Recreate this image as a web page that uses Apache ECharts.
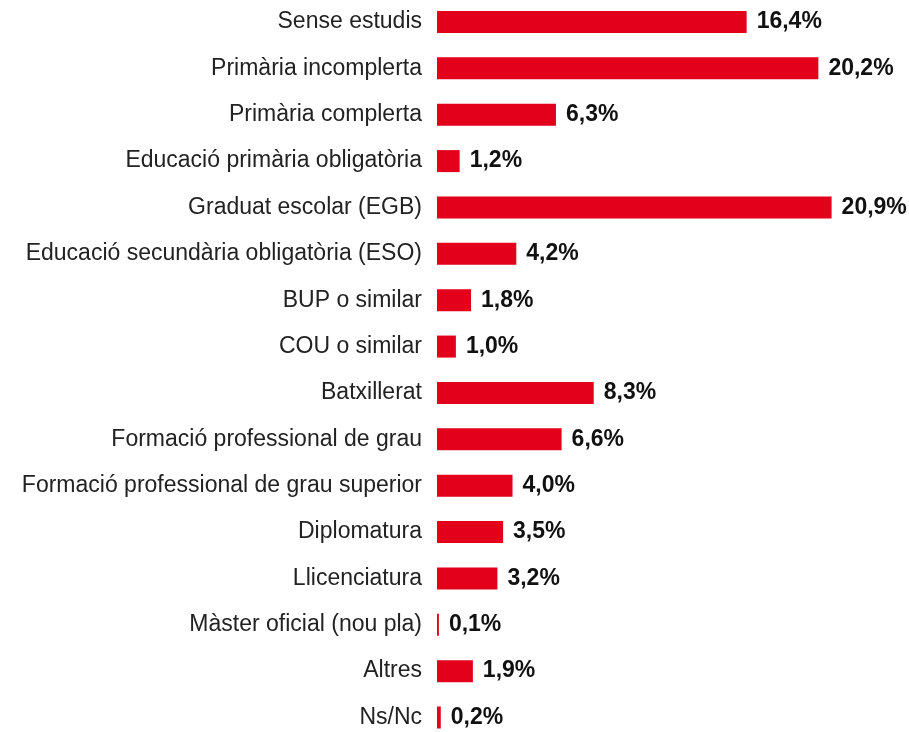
<!DOCTYPE html>
<html><head><meta charset="utf-8">
<script src="https://cdn.jsdelivr.net/npm/echarts@6/dist/echarts.min.js"></script>
<style>html,body{margin:0;padding:0;background:#fff}#c{width:909px;height:732px}</style>
</head><body><div id="c"></div>
<script>
const categories = ["Sense estudis","Primària incomplerta","Primària complerta","Educació primària obligatòria","Graduat escolar (EGB)","Educació secundària obligatòria (ESO)","BUP o similar","COU o similar","Batxillerat","Formació professional de grau","Formació professional de grau superior","Diplomatura","Llicenciatura","Màster oficial (nou pla)","Altres","Ns/Nc"];
const values = [16.4,20.2,6.3,1.2,20.9,4.2,1.8,1.0,8.3,6.6,4.0,3.5,3.2,0.1,1.9,0.2];
const chart = echarts.init(document.getElementById('c'));
chart.setOption({
  animation:false,
  grid:{left:437, top:22, width:472, bottom:14.5, containLabel:false},
  xAxis:{type:'value', min:0, max:25, show:false},
  yAxis:{type:'category', data:categories, inverse:true, boundaryGap:false,
    axisLine:{show:false}, axisTick:{show:false}, splitLine:{show:false},
    axisLabel:{fontFamily:'Liberation Sans, Arial, sans-serif', fontSize:23, color:'#222', margin:15}},
  series:[{type:'bar', data:values, barWidth:22, itemStyle:{color:'#e2001a'},
    label:{show:true, position:'right', distance:10, fontFamily:'Liberation Sans, Arial, sans-serif', fontWeight:'bold', fontSize:23, color:'#111',
      formatter:p=>p.value.toFixed(1).replace('.',',')+'%'}}]
});
</script></body></html>
